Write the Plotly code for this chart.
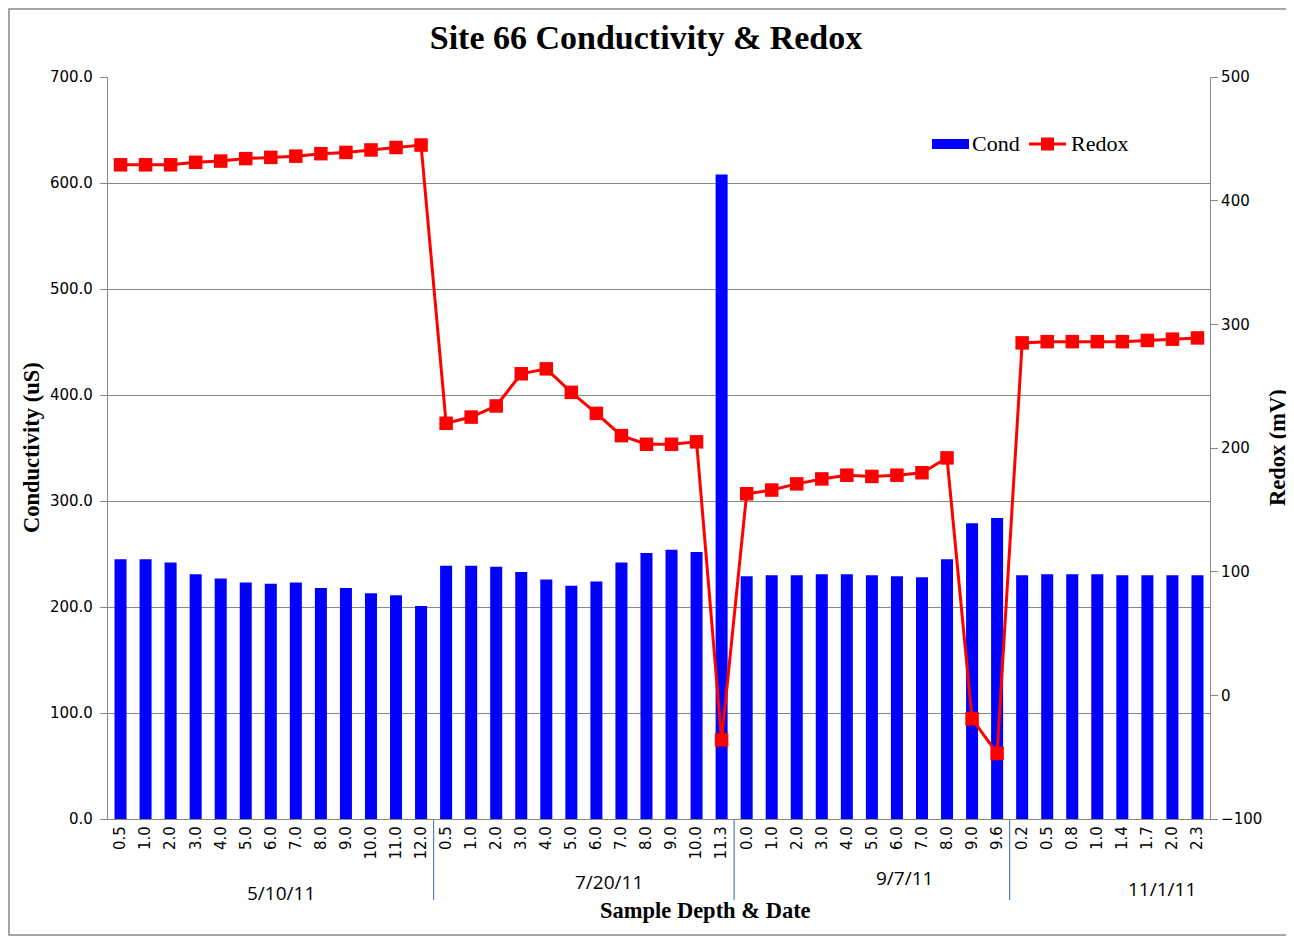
import plotly.graph_objects as go

depth_labels = ["0.5","1.0","2.0","3.0","4.0","5.0","6.0","7.0","8.0","9.0","10.0","11.0","12.0",
                "0.5","1.0","2.0","3.0","4.0","5.0","6.0","7.0","8.0","9.0","10.0","11.3",
                "0.0","1.0","2.0","3.0","4.0","5.0","6.0","7.0","8.0","9.0","9.6",
                "0.2","0.5","0.8","1.0","1.4","1.7","2.0","2.3"]
cond = [245,245,242,231,227,223,222,223,218,218,213,211,201,
        239,239,238,233,226,220,224,242,251,254,252,608,
        229,230,230,231,231,230,229,228,245,279,284,
        230,231,231,231,230,230,230,230]
redox = [429,429,429,431,432,434,435,436,438,439,441,443,445,
         220,225,234,260,264,245,228,210,203,203,205,-36,
         163,166,171,175,178,177,178,180,192,-19,-47,
         285,286,286,286,286,287,288,289]
dates = ["5/10/11","7/20/11","9/7/11","11/1/11"]
date_pos = [6.4, 19.5, 31.3, 41.6]
date_y = [-0.0997, -0.0849, -0.0795, -0.0943]
separators = [12.5, 24.5, 35.5]

x = list(range(len(depth_labels)))

W, H = 1286, 930
L, T, PW, PH = 100, 69, 1102, 742


def px(v):
    return (v - L) / PW


def py(v):
    return (T + PH - v) / PH


fig = go.Figure()
fig.add_trace(go.Bar(x=x, y=cond, name="Cond", marker=dict(color="#0000FF", line=dict(width=0)),
                     width=0.48, yaxis="y", showlegend=False))
fig.add_trace(go.Scatter(x=x, y=redox, name="Redox", mode="lines+markers", yaxis="y2", showlegend=False,
                         line=dict(color="#FF0000", width=3),
                         marker=dict(symbol="square", size=13.5, color="#FF0000")))

serif = "Liberation Serif, Times New Roman, serif"
sans = "DejaVu Sans, sans-serif"
datefont = "Open Sans, sans-serif"

annotations = []
for d, p, yy in zip(dates, date_pos, date_y):
    annotations.append(dict(x=p, y=yy, xref="x", yref="paper", text=d, showarrow=False,
                            font=dict(family=datefont, size=19, color="black"), yanchor="middle"))
annotations.append(dict(x=px(698), y=py(902), xref="paper", yref="paper", text="<b>Sample Depth & Date</b>",
                        showarrow=False, font=dict(family=serif, size=22.5, color="black"), yanchor="middle"))
annotations.append(dict(x=px(23), y=0.5, xref="paper", yref="paper", text="<b>Conductivity (uS)</b>",
                        textangle=-90, showarrow=False, font=dict(family=serif, size=22.5, color="black"),
                        xanchor="center", yanchor="middle"))
annotations.append(dict(x=px(1269), y=0.5, xref="paper", yref="paper", text="<b>Redox (mV)</b>",
                        textangle=-90, showarrow=False, font=dict(family=serif, size=22.5, color="black"),
                        xanchor="center", yanchor="middle"))
# legend texts
annotations.append(dict(x=px(962), y=py(135), xref="paper", yref="paper", text="Cond", showarrow=False,
                        xanchor="left", yanchor="middle", font=dict(family=serif, size=22, color="black")))
annotations.append(dict(x=px(1061), y=py(135), xref="paper", yref="paper", text="Redox", showarrow=False,
                        xanchor="left", yanchor="middle", font=dict(family=serif, size=22, color="black")))

shapes = []
for s in separators:
    shapes.append(dict(type="line", xref="x", yref="paper", x0=s, x1=s, y0=0, y1=-0.109,
                       line=dict(color="#4F81BD", width=1.2)))
# chart border
shapes.append(dict(type="rect", xref="paper", yref="paper", x0=px(1), x1=px(1283), y0=py(927), y1=py(1),
                   line=dict(color="#888888", width=1.5)))
# legend symbols
shapes.append(dict(type="rect", xref="paper", yref="paper", x0=px(924), x1=px(961), y0=py(141), y1=py(131),
                   fillcolor="#0000FF", line=dict(width=0)))
shapes.append(dict(type="line", xref="paper", yref="paper", x0=px(1021), x1=px(1058), y0=py(136), y1=py(136),
                   line=dict(color="#FF0000", width=3)))
shapes.append(dict(type="rect", xref="paper", yref="paper", x0=px(1033), x1=px(1046), y0=py(142.5), y1=py(129.5),
                   fillcolor="#FF0000", line=dict(width=0)))

fig.update_layout(
    width=W, height=H,
    margin=dict(l=L, r=W - L - PW, t=T, b=H - T - PH, autoexpand=False),
    paper_bgcolor="white", plot_bgcolor="white",
    title=dict(text="<b>Site 66 Conductivity & Redox</b>", x=638 / W, xanchor="center", y=1 - 29 / H,
               yanchor="middle", font=dict(family=serif, size=34, color="black")),
    xaxis=dict(range=[-0.5, 43.5], tickmode="array", tickvals=x, ticktext=depth_labels, tickangle=-90,
               tickfont=dict(family=sans, size=15, color="black"), showgrid=False,
               showline=True, linecolor="#888888", linewidth=1.2, ticks="", zeroline=False),
    yaxis=dict(range=[0, 700], dtick=100, tickformat=".1f", showgrid=True, gridcolor="#868686", gridwidth=1,
               showline=True, linecolor="#888888", linewidth=1.2, ticks="outside", ticklen=7, tickcolor="#888888",
               tickfont=dict(family=sans, size=15, color="black"), zeroline=False, ticklabelstandoff=4),
    yaxis2=dict(range=[-100, 500], dtick=100, overlaying="y", side="right", showgrid=False,
                showline=True, linecolor="#888888", linewidth=1.2, ticks="outside", ticklen=7, tickcolor="#888888",
                tickfont=dict(family=sans, size=15, color="black"), zeroline=False),
    annotations=annotations, shapes=shapes, showlegend=False, bargap=0.5,
)

fig.write_html("out.html")
